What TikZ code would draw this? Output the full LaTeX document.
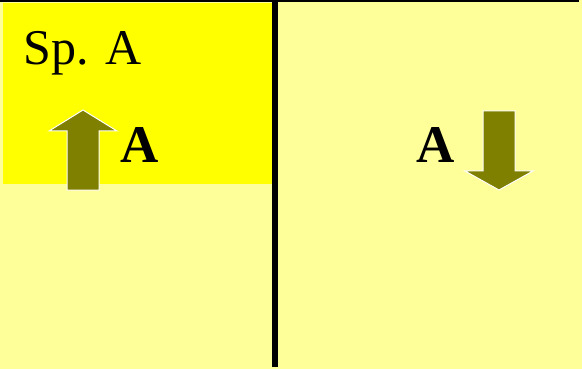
\documentclass[tikz,border=0pt]{standalone}
\usepackage{fontspec}
\setmainfont{Liberation Serif}
\definecolor{pale}{HTML}{FFFF99}
\definecolor{bright}{HTML}{FFFF00}
\definecolor{olivearrow}{HTML}{808000}
\begin{document}
\begin{tikzpicture}[x=1pt,y=-1pt,
  arrowshape/.style={fill=olivearrow,draw=white,line width=1pt,line join=miter},
  boldlabel/.style={font=\fontsize{53}{53}\selectfont\bfseries,inner sep=0pt,anchor=base west},
  divider/.style={line width=5.5pt,draw=black}]
\fill[pale] (0,0) rectangle (582,369);
\useasboundingbox (0,0) rectangle (582,369);
\fill[bright] (3,3) rectangle (274,184);
\fill[black] (0,0) rectangle (579,2.5);
\coordinate (dtop) at (275,0);
\coordinate (dbot) at (275,367);
\draw[divider] (dtop) -- (dbot);
\node[inner sep=0pt,anchor=base west,font=\fontsize{50}{50}\selectfont] (title) at (23,65) {Sp. A};
\node[boldlabel] (la) at (120,162) {A};
\node[boldlabel] (ra) at (416,162) {A};
\draw[arrowshape] (67,190) -- (67,131) -- (49,131) -- (83,110) -- (117,131) -- (99,131) -- (99,190) -- cycle;
\draw[arrowshape] (483,111) -- (515,111) -- (515,171) -- (533,171) -- (499,190) -- (465,171) -- (483,171) -- cycle;
\end{tikzpicture}
\end{document}
